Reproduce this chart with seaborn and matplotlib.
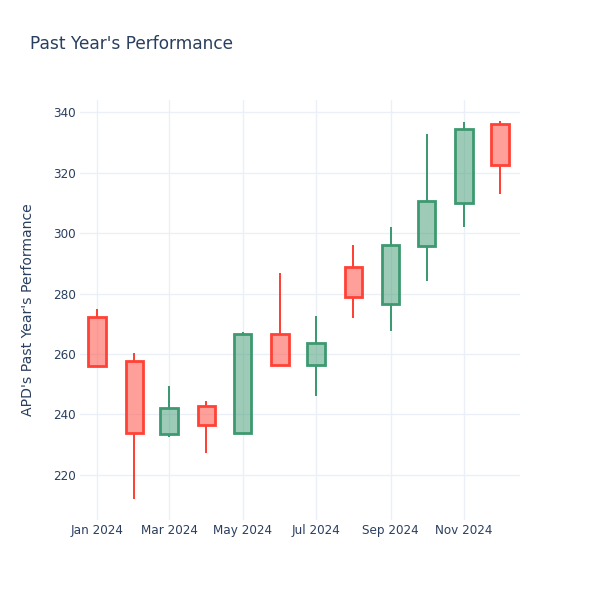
import matplotlib
matplotlib.use("Agg")
import matplotlib.pyplot as plt
import matplotlib.dates as mdates
import seaborn as sns
import pandas as pd
import numpy as np

months = ["2024-01-01", "2024-02-01", "2024-03-01", "2024-04-01", "2024-05-01", "2024-06-01",
          "2024-07-01", "2024-08-01", "2024-09-01", "2024-10-01", "2024-11-01", "2024-12-01"]
open_ = [272.3, 257.8, 233.6, 242.9, 233.8, 266.5, 256.4, 288.7, 276.5, 295.8, 309.8, 336.1]
high = [274.8, 260.2, 249.4, 244.6, 267.2, 286.7, 272.7, 296.0, 302.0, 332.6, 336.6, 336.9]
low = [255.6, 212.1, 232.5, 227.4, 233.5, 256.1, 246.1, 271.8, 267.5, 284.0, 301.9, 312.8]
close = [255.9, 233.8, 242.3, 236.4, 266.7, 256.4, 263.8, 278.8, 295.9, 310.5, 334.4, 322.6]

title = "Past Year's Performance"
ylabel = "APD's Past Year's Performance"
yticks = [220, 240, 260, 280, 300, 320, 340]
xtick_dates = ["2024-01-01", "2024-03-01", "2024-05-01", "2024-07-01", "2024-09-01", "2024-11-01"]

df = pd.DataFrame({"date": pd.to_datetime(months), "open": open_, "high": high,
                   "low": low, "close": close})

sns.set_theme(style="white")
plt.rcParams['font.family'] = ['DejaVu Sans']
TXT = "#2a3f5f"
GRID = "#EBF0F8"
UP = "#3D9970"
DOWN = "#FF4136"

fig = plt.figure(figsize=(6, 6), dpi=100)
ax = fig.add_axes([80/600, 80/600, 440/600, 420/600])

x = mdates.date2num(df["date"])
width = 14.5
body_lw = 2.0
wick_lw = 1.44
for xi, o, h, l, c in zip(x, df["open"], df["high"], df["low"], df["close"]):
    col = UP if c >= o else DOWN
    top, bot = max(o, c), min(o, c)
    ax.bar(xi, top - bot, bottom=bot, width=width, facecolor=col, alpha=0.5,
           edgecolor="none", zorder=3)
    ax.bar(xi, top - bot, bottom=bot, width=width, facecolor="none",
           edgecolor=col, linewidth=body_lw, zorder=4)
    ax.vlines(xi, top, h, color=col, linewidth=wick_lw, zorder=4)
    ax.vlines(xi, l, bot, color=col, linewidth=wick_lw, zorder=4)

x0 = mdates.date2num(pd.Timestamp("2024-01-01"))
ax.set_xlim(x0 - 14.1, x0 + 351.6)
ax.set_ylim(205.1, 344.0)

ax.set_xticks(mdates.date2num(pd.to_datetime(xtick_dates)))
ax.xaxis.set_major_formatter(mdates.DateFormatter("%b %Y"))
ax.set_yticks(yticks)
ax.grid(True, color=GRID, linewidth=1, zorder=0)
ax.set_axisbelow(True)
for s in ax.spines.values():
    s.set_visible(False)
ax.tick_params(axis="both", length=0, labelsize=8.64, colors=TXT)
ax.tick_params(axis="x", pad=3)
ax.tick_params(axis="y", pad=3)
ax.set_ylabel(ylabel, fontsize=10.08, color=TXT, labelpad=13)

fig.text(30/600, 1 - 44/600, title, fontsize=12.24, color=TXT, ha="left", va="center")

fig.savefig("out.png", dpi=100)
